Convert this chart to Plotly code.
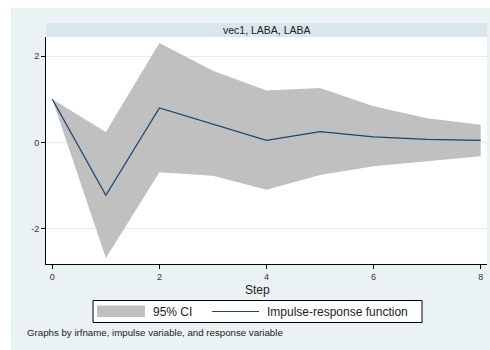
import plotly.graph_objects as go

# Data
steps = [0, 1, 2, 3, 4, 5, 6, 7, 8]
irf = [1.0, -1.22, 0.80, 0.43, 0.05, 0.25, 0.13, 0.07, 0.05]
ci_upper = [1.0, 0.24, 2.30, 1.66, 1.20, 1.26, 0.84, 0.56, 0.41]
ci_lower = [1.0, -2.67, -0.69, -0.77, -1.09, -0.75, -0.55, -0.43, -0.32]
x_ticks = [0, 2, 4, 6, 8]
y_ticks = [-2, 0, 2]
y_tick_labels = ["-2", "0", "2"]
panel_title = "vec1, LABA, LABA"
x_title = "Step"
legend_labels = ["95% CI", "Impulse-response function"]
note = "Graphs by irfname, impulse variable, and response variable"

W, H = 490, 350
L, R, T, B = 46, 487, 37, 264  # plot area in pixels


def xp(px):
    return (px - L) / (R - L)


def yp(py):
    return (B - py) / (B - T)


FONT = "Liberation Sans, Arial, Helvetica, sans-serif"
BG = "#eaf2f3"
NAVY = "#1a476f"
GRAY = "#c0c0c0"

fig = go.Figure()
fig.add_trace(go.Scatter(x=steps, y=ci_lower, mode="lines", line=dict(width=0),
                         hoverinfo="skip", showlegend=False))
fig.add_trace(go.Scatter(x=steps, y=ci_upper, mode="lines", line=dict(width=0),
                         fill="tonexty", fillcolor=GRAY, name=legend_labels[0],
                         showlegend=False))
fig.add_trace(go.Scatter(x=steps, y=irf, mode="lines", line=dict(color=NAVY, width=1.3),
                         name=legend_labels[1], showlegend=False))

shapes = [
    # white margins top and left
    dict(type="rect", xref="paper", yref="paper", x0=xp(0), x1=xp(W), y0=yp(0), y1=yp(8),
         fillcolor="white", line=dict(width=0), layer="below"),
    dict(type="rect", xref="paper", yref="paper", x0=xp(0), x1=xp(11), y0=yp(0), y1=yp(H),
         fillcolor="white", line=dict(width=0), layer="below"),
    # panel strip
    dict(type="rect", xref="paper", yref="paper", x0=xp(L), x1=xp(R), y0=yp(23), y1=yp(T),
         fillcolor="#d9e6eb", line=dict(width=0), layer="below"),
    # legend box
    dict(type="rect", xref="paper", yref="paper", x0=xp(93), x1=xp(422), y0=yp(300.5), y1=yp(322.5),
         fillcolor="white", line=dict(color="black", width=1)),
    dict(type="rect", xref="paper", yref="paper", x0=xp(97), x1=xp(145), y0=yp(305.5), y1=yp(317),
         fillcolor=GRAY, line=dict(width=0)),
    dict(type="line", xref="paper", yref="paper", x0=xp(212), x1=xp(259), y0=yp(311.5), y1=yp(311.5),
         line=dict(color=NAVY, width=1.2)),
]

annotations = [
    dict(text=panel_title, xref="paper", yref="paper", x=xp((L + R) / 2), y=yp(30),
         showarrow=False, xanchor="center", yanchor="middle",
         font=dict(family=FONT, size=10.5, color="#222")),
    dict(text=x_title, xref="paper", yref="paper", x=xp(257.5), y=yp(289.5),
         showarrow=False, xanchor="center", yanchor="middle",
         font=dict(family=FONT, size=12, color="#222")),
    dict(text=legend_labels[0], xref="paper", yref="paper", x=xp(151), y=yp(311.5),
         showarrow=False, xanchor="left", yanchor="middle",
         font=dict(family=FONT, size=12, color="#222")),
    dict(text=legend_labels[1], xref="paper", yref="paper", x=xp(265), y=yp(311.5),
         showarrow=False, xanchor="left", yanchor="middle",
         font=dict(family=FONT, size=12, color="#222")),
    dict(text=note, xref="paper", yref="paper", x=xp(25), y=yp(332.5),
         showarrow=False, xanchor="left", yanchor="middle",
         font=dict(family=FONT, size=9.7, color="#222")),
]

fig.update_layout(
    width=W, height=H,
    margin=dict(l=L, r=W - R, t=T, b=H - B, pad=0),
    paper_bgcolor=BG, plot_bgcolor="white",
    shapes=shapes, annotations=annotations,
    showlegend=False,
    font=dict(family=FONT, size=9, color="#333"),
    xaxis=dict(range=[-0.118, 8.118], tickvals=x_ticks, showgrid=False, zeroline=False,
               showline=True, linecolor="black", linewidth=1, ticks="outside", ticklen=4,
               tickcolor="black", tickfont=dict(family=FONT, size=9, color="#333")),
    yaxis=dict(range=[-2.81, 2.44], tickvals=y_ticks, ticktext=y_tick_labels,
               showgrid=True, gridcolor="#e3edf0",
               gridwidth=1, zeroline=False, showline=True, linecolor="black", linewidth=1,
               ticks="outside", ticklen=4, tickcolor="black",
               tickfont=dict(family=FONT, size=9, color="#333")),
)

fig.write_html("out.html", config={"displayModeBar": False},
               post_script="document.body.style.margin='0';document.body.style.overflow='hidden';")
